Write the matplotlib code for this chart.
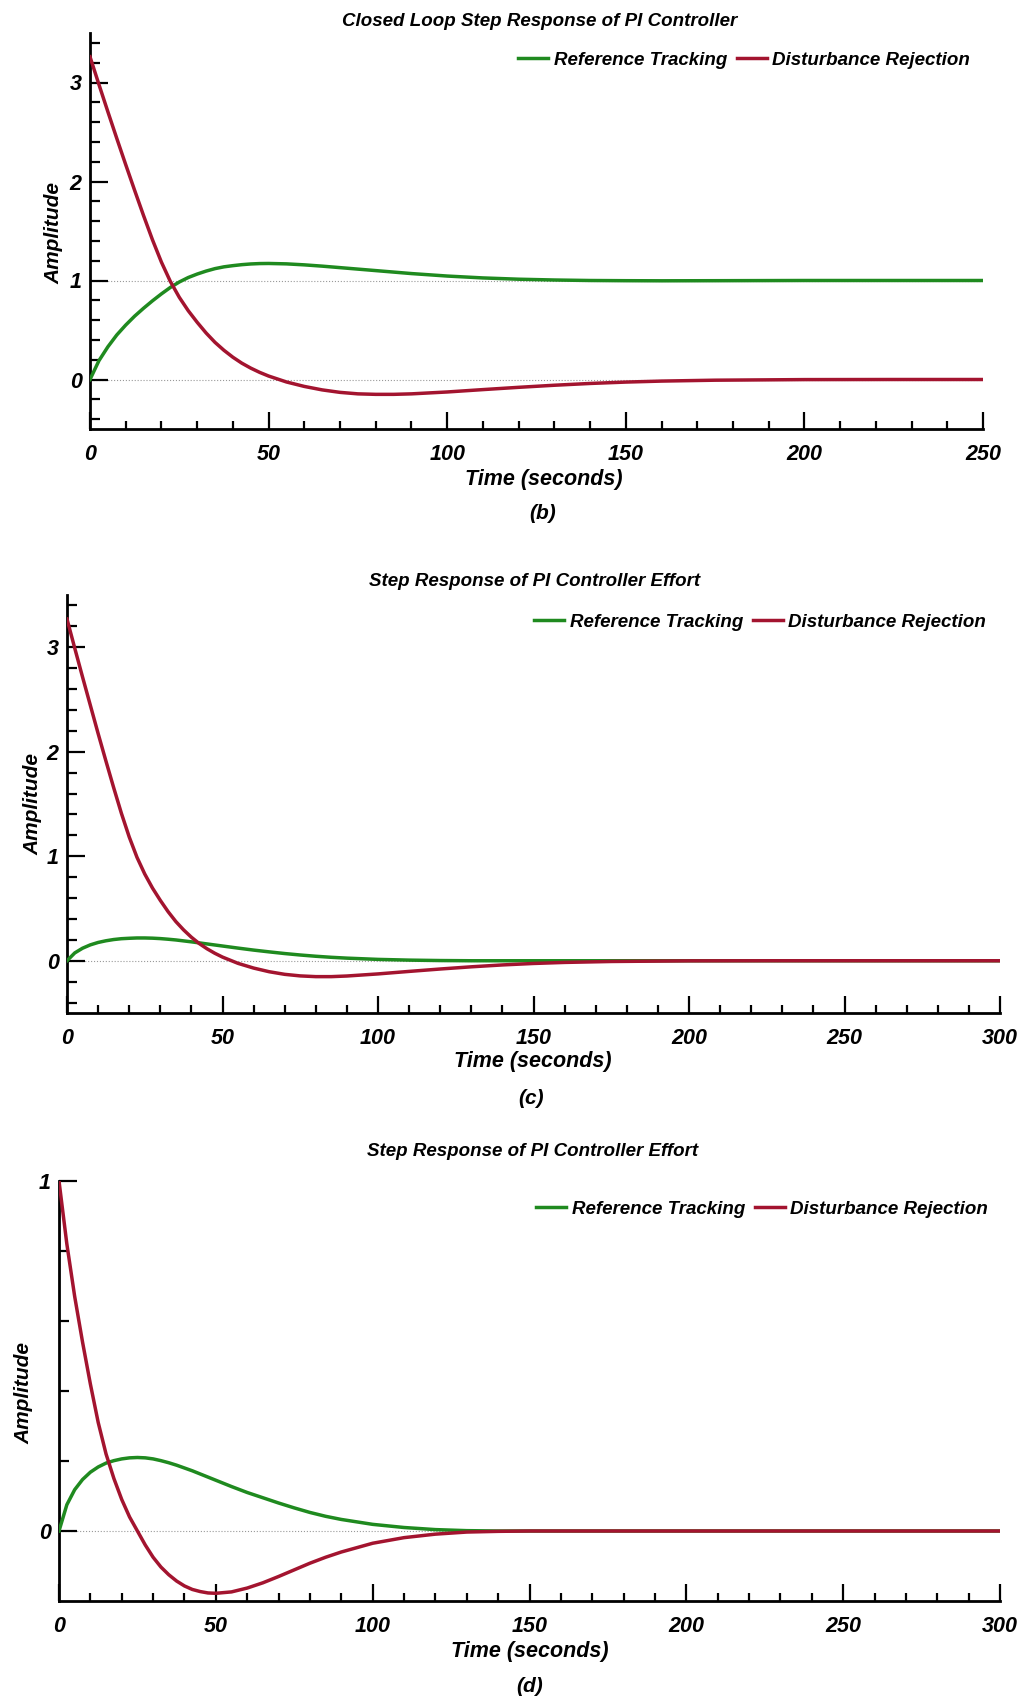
import matplotlib
matplotlib.use('Agg')
import matplotlib.pyplot as plt
from matplotlib.ticker import FixedLocator

# 字体: 粗斜体
plt.rcParams['font.family'] = ['Liberation Sans Narrow', 'Liberation Sans', 'DejaVu Sans']
plt.rcParams['font.weight'] = 'bold'
plt.rcParams['font.style'] = 'italic'

GREEN = '#1f8a1f'
RED = '#a3142f'
W, H = 1024, 1702

labels = ['Reference Tracking', 'Disturbance Rejection']

# (b) closed loop step response
t_b = [0, 2.5, 5, 7.5, 10, 12.5, 15, 17.5, 20, 22.5, 25, 27.5, 30, 32.5, 35, 37.5, 40, 42.5, 45, 47.5,
       50, 55, 60, 65, 70, 75, 80, 85, 90, 100, 110, 120, 130, 140, 150, 160, 175, 200, 225, 250]
ref_b = [0, 0.19, 0.33, 0.45, 0.55, 0.64, 0.72, 0.795, 0.865, 0.93, 0.985, 1.03, 1.065, 1.095, 1.12, 1.138, 1.15, 1.16, 1.167, 1.171,
         1.172, 1.168, 1.158, 1.145, 1.13, 1.115, 1.1, 1.085, 1.07, 1.045, 1.026, 1.013, 1.005, 1.0, 0.998, 0.997, 0.998, 1.0, 1.0, 1.0]
dist_b = [3.26, 2.98, 2.705, 2.435, 2.17, 1.91, 1.655, 1.41, 1.185, 0.99, 0.83, 0.695, 0.578, 0.47, 0.375, 0.295, 0.225, 0.165, 0.115, 0.072,
          0.035, -0.025, -0.07, -0.105, -0.13, -0.145, -0.15, -0.15, -0.145, -0.126, -0.102, -0.079, -0.058, -0.04, -0.026, -0.016, -0.007, -0.001, 0, 0]

# (c) controller effort
t_c = t_b + [275, 300]
ref_c = [0, 0.075, 0.12, 0.152, 0.175, 0.191, 0.203, 0.211, 0.215, 0.218, 0.218, 0.216, 0.212, 0.206, 0.199, 0.19, 0.181, 0.171, 0.161, 0.151,
         0.141, 0.121, 0.102, 0.085, 0.069, 0.055, 0.043, 0.033, 0.025, 0.013, 0.006, 0.002, 0.0, 0, 0, 0, 0, 0, 0, 0, 0, 0]
dist_c = [3.27, 2.99, 2.715, 2.445, 2.175, 1.913, 1.657, 1.41, 1.185, 0.99, 0.83, 0.695, 0.578, 0.47, 0.375, 0.295, 0.225, 0.165, 0.115, 0.072,
          0.035, -0.025, -0.07, -0.105, -0.13, -0.145, -0.152, -0.152, -0.146, -0.126, -0.102, -0.079, -0.058, -0.04, -0.026, -0.016, -0.007, -0.001, 0, 0, 0, 0]

# (d) controller effort
t_d = t_c
ref_d = [0, 0.075, 0.118, 0.147, 0.168, 0.183, 0.194, 0.201, 0.206, 0.209, 0.21, 0.209, 0.206, 0.201, 0.195, 0.188, 0.18, 0.172, 0.163, 0.154,
         0.145, 0.127, 0.11, 0.095, 0.08, 0.066, 0.053, 0.042, 0.033, 0.019, 0.01, 0.004, 0.001, 0, 0, 0, 0, 0, 0, 0, 0, 0]
dist_d = [1.0, 0.82, 0.67, 0.54, 0.42, 0.31, 0.22, 0.15, 0.09, 0.04, 0.0, -0.04, -0.075, -0.103, -0.125, -0.143, -0.157, -0.167, -0.173, -0.177,
          -0.178, -0.174, -0.163, -0.148, -0.13, -0.111, -0.092, -0.075, -0.06, -0.035, -0.019, -0.009, -0.003, -0.001, 0, 0, 0, 0, 0, 0, 0, 0]

panels = [
    dict(t=t_b, ref=ref_b, dist=dist_b, rect=(90, 33, 983, 429), xmax=250, ylim=(-0.5, 3.5),
         ymaj=[0, 1, 2, 3], ymin=[-0.4, -0.2, 0.2, 0.4, 0.6, 0.8, 1.2, 1.4, 1.6, 1.8, 2.2, 2.4, 2.6, 2.8, 3.2, 3.4],
         refl=[0, 1], title='Closed Loop Step Response of PI Controller', tpos=(540, 22),
         leg=(970, 60), xl=(544, 480), tag='(b)', tagpos=(543, 513), yl=(54, 233)),
    dict(t=t_c, ref=ref_c, dist=dist_c, rect=(67, 595, 1000, 1013), xmax=300, ylim=(-0.5, 3.5),
         ymaj=[0, 1, 2, 3], ymin=[-0.4, -0.2, 0.2, 0.4, 0.6, 0.8, 1.2, 1.4, 1.6, 1.8, 2.2, 2.4, 2.6, 2.8, 3.2, 3.4],
         refl=[0], title='Step Response of PI Controller Effort', tpos=(535, 581),
         leg=(986, 622), xl=(533, 1062), tag='(c)', tagpos=(531, 1099), yl=(33, 804)),
    dict(t=t_d, ref=ref_d, dist=dist_d, rect=(59, 1181, 1000, 1601), xmax=300, ylim=(-0.2, 1.0),
         ymaj=[0, 1], ymin=[0.2, 0.4, 0.6, 0.8],
         refl=[0], title='Step Response of PI Controller Effort', tpos=(533, 1151),
         leg=(988, 1209), xl=(530, 1652), tag='(d)', tagpos=(530, 1686), yl=(24, 1393)),
]

fig = plt.figure(figsize=(W / 100, H / 100), dpi=100)

for p in panels:
    x0, y0, x1, y1 = p['rect']
    ax = fig.add_axes([x0 / W, 1 - y1 / H, (x1 - x0) / W, (y1 - y0) / H])
    for v in p['refl']:
        ax.axhline(v, color='#999999', lw=0.8, ls=':', zorder=1)
    g, = ax.plot(p['t'], p['ref'], color=GREEN, lw=2.5, zorder=3)
    r, = ax.plot(p['t'], p['dist'], color=RED, lw=2.5, zorder=4)
    ax.set_xlim(0, p['xmax'])
    ax.set_ylim(*p['ylim'])
    ax.spines['top'].set_visible(False)
    ax.spines['right'].set_visible(False)
    for s in ('left', 'bottom'):
        ax.spines[s].set_linewidth(2.0)
    ax.xaxis.set_major_locator(FixedLocator(list(range(0, p['xmax'] + 1, 50))))
    ax.xaxis.set_minor_locator(FixedLocator([v for v in range(0, p['xmax'] + 1, 10) if v % 50]))
    ax.yaxis.set_major_locator(FixedLocator(p['ymaj']))
    ax.yaxis.set_minor_locator(FixedLocator(p['ymin']))
    ax.set_xticklabels([str(v) for v in range(0, p['xmax'] + 1, 50)])
    ax.set_yticklabels([str(v) for v in p['ymaj']])
    ax.tick_params(which='both', direction='in', width=1.6, labelsize=15.5)
    ax.tick_params(axis='x', which='major', length=12, pad=11)
    ax.tick_params(axis='x', which='minor', length=6)
    ax.tick_params(axis='y', which='major', length=13, pad=6)
    ax.tick_params(axis='y', which='minor', length=7)
    ax.patch.set_alpha(0)

    fig.text(p['tpos'][0] / W, 1 - p['tpos'][1] / H, p['title'], ha='center', va='center', fontsize=13.5)
    fig.text(p['xl'][0] / W, 1 - p['xl'][1] / H, 'Time (seconds)', ha='center', va='center', fontsize=15.5)
    fig.text(p['tagpos'][0] / W, 1 - p['tagpos'][1] / H, p['tag'], ha='center', va='center', fontsize=15)
    fig.text(p['yl'][0] / W, 1 - p['yl'][1] / H, 'Amplitude', ha='center', va='center', rotation=90, fontsize=15)
    fig.legend([g, r], labels, loc='center right',
               bbox_to_anchor=(p['leg'][0] / W, 1 - p['leg'][1] / H),
               ncol=2, frameon=False, fontsize=13.5, handlelength=1.6, handletextpad=0.3,
               columnspacing=0.5, borderpad=0, borderaxespad=0)

fig.savefig('out.png', dpi=100)
